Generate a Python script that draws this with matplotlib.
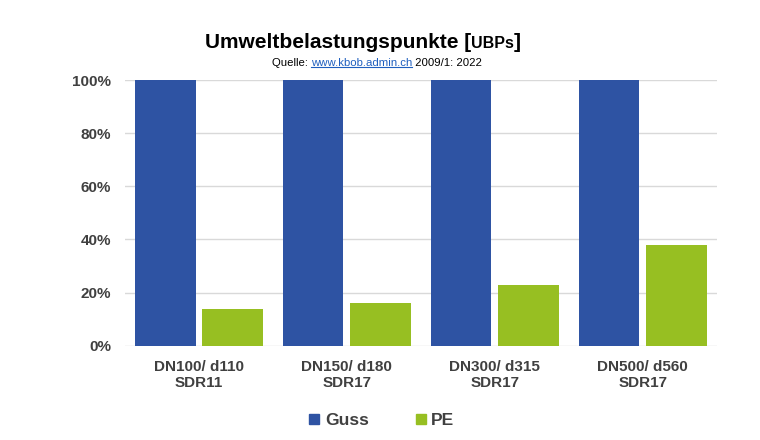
import matplotlib.pyplot as plt
from matplotlib.lines import Line2D
from matplotlib.ticker import PercentFormatter

plt.rcParams["font.family"] = ["Liberation Sans", "DejaVu Sans"]

categories = ["DN100/ d110\nSDR11", "DN150/ d180\nSDR17", "DN300/ d315\nSDR17", "DN500/ d560\nSDR17"]
guss = [100, 100, 100, 100]
pe = [14, 16, 23, 38]
series_names = ["Guss", "PE"]
colors = ["#2E53A3", "#97BF22"]
label_color = "#404040"

fig = plt.figure(figsize=(7.6, 4.4), dpi=100)
ax = fig.add_axes([0.1645, 0.2143, 0.7785, 0.6037])

x = range(len(categories))
width = 0.41
off = 0.228
ax.bar([i - off for i in x], guss, width, color=colors[0], label=series_names[0], zorder=3)
ax.bar([i + off for i in x], pe, width, color=colors[1], label=series_names[1], zorder=3)

ax.set_xlim(-0.5, len(categories) - 0.5)
ax.set_ylim(0, 100)
ax.set_yticks([0, 20, 40, 60, 80, 100])
ax.yaxis.set_major_formatter(PercentFormatter(decimals=0))
ax.set_xticks(list(x))
ax.set_xticklabels(categories, fontsize=11, fontweight="bold", color=label_color, linespacing=1.25)
for lab in ax.get_yticklabels():
    lab.set_fontsize(11)
    lab.set_fontweight("bold")
    lab.set_color(label_color)
ax.tick_params(length=0, pad=10, axis="y")
ax.tick_params(length=0, pad=10, axis="x")
ax.grid(axis="y", color="#D9D9D9", linewidth=1, zorder=0)
for s in ax.spines.values():
    s.set_visible(False)

# title with smaller unit part, all on one baseline
y_title = 1 - 48 / 440
t1 = fig.text(205 / 760, y_title, "Umweltbelastungspunkte [", fontsize=15, fontweight="bold",
              va="baseline", ha="left")
fig.canvas.draw()
r = fig.canvas.get_renderer()
bb = t1.get_window_extent(r)
t2 = fig.text(bb.x1 / 760, y_title, "UBPs", fontsize=11.5, fontweight="bold", va="baseline", ha="left")
bb = t2.get_window_extent(r)
fig.text(bb.x1 / 760, y_title, "]", fontsize=15, fontweight="bold", va="baseline", ha="left")

# source line with underlined link
y_sub = 1 - 63 / 440
s1 = fig.text(272 / 760, y_sub, "Quelle: ", fontsize=8.2, va="center", ha="left")
bb = s1.get_window_extent(r)
s2 = fig.text(bb.x1 / 760, y_sub, "www.kbob.admin.ch", fontsize=8.2, va="center", ha="left", color="#1F5FBF")
bb2 = s2.get_window_extent(r)
fig.add_artist(Line2D([bb2.x0 / 760, bb2.x1 / 760], [(bb2.y0 + 0.5) / 440] * 2, color="#1F5FBF", linewidth=0.8))
fig.text(bb2.x1 / 760, y_sub, " 2009/1: 2022", fontsize=8.2, va="center", ha="left")

handles = [Line2D([], [], marker="s", linestyle="none", markersize=7, color=c) for c in colors]
leg = fig.legend(handles, series_names, loc="center", bbox_to_anchor=(0.5, 1 - 420 / 440), ncol=2,
                 frameon=False, prop={"size": 12.5, "weight": "bold"}, columnspacing=2.5, handletextpad=0.1,
                 handlelength=1.0)
for t in leg.get_texts():
    t.set_color(label_color)

fig.savefig("out.png", dpi=100)
